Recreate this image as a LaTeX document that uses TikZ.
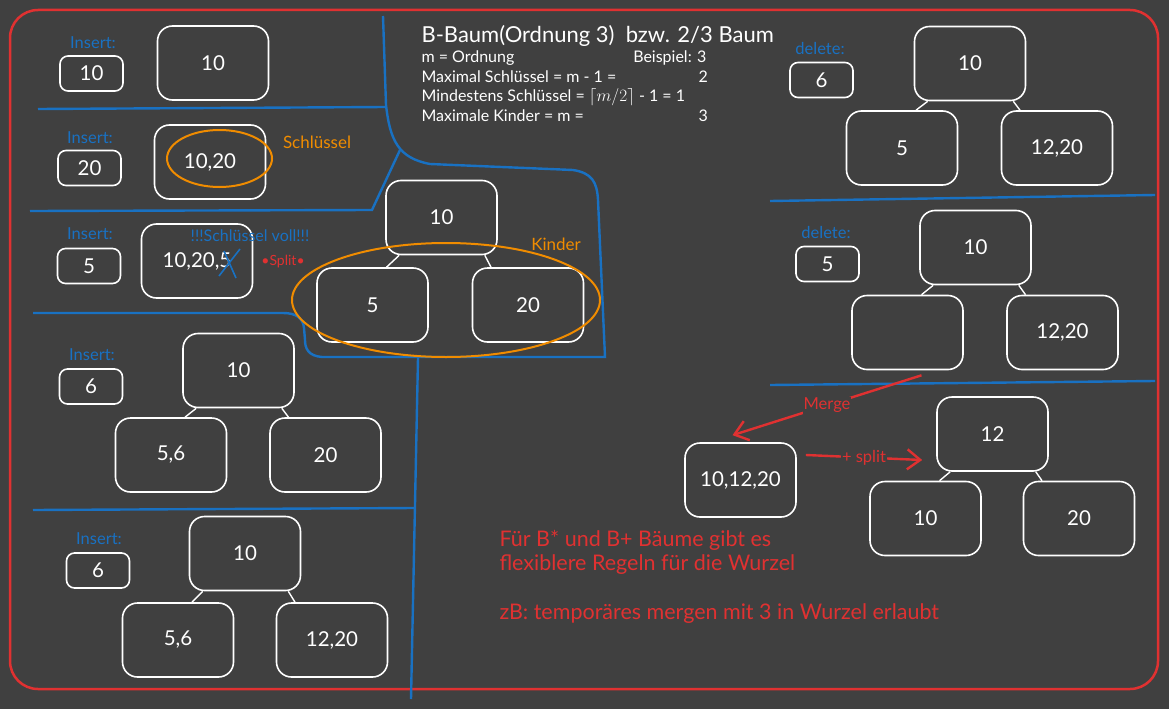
\documentclass[tikz,border=0pt]{standalone}
\usepackage{fontspec}
\setmainfont{Lato}
\usetikzlibrary{arrows.meta}
\definecolor{bgrey}{HTML}{404040}
\definecolor{bblue}{HTML}{1971C2}
\definecolor{bred}{HTML}{E03131}
\definecolor{borange}{HTML}{F08C00}
\begin{document}
\begin{tikzpicture}[x=1pt, y=-1pt, >={Straight Barb[length=13pt,width=20pt]},
	box/.style={draw=white, line width=1.6pt, rounded corners=15pt, minimum width=111pt, minimum height=74pt, inner sep=0pt, text=white, font=\fontsize{20.5}{22}\selectfont},
	keybox/.style={box, rounded corners=8pt, minimum width=63pt, minimum height=35pt},
	lbl/.style={text=bblue, font=\fontsize{16.5}{18}\selectfont},
	note/.style={text=borange, font=\fontsize{17}{19}\selectfont},
	sep/.style={draw=bblue, line width=2.4pt},
	edge/.style={draw=white, line width=1.4pt},
	rarrow/.style={->, draw=bred, line width=2.4pt},
	rlbl/.style={fill=bgrey, text=bred, font=\fontsize{16.5}{18}\selectfont, inner sep=1pt},
	head/.style={text=white, anchor=west, font=\fontsize{16}{18}\selectfont}]
		\useasboundingbox (0,0) rectangle (1169,709);
		\fill[bgrey] (0,0) rectangle (1169,709);
		\draw[bred, line width=2.5pt, rounded corners=28pt] (10,10) rectangle (1158,689);

		\draw[sep] (38,109) -- (386,107);
		\draw[sep] (30,211) -- (372,210) -- (400,150);
		\draw[sep] (383,16) -- (386,105) .. controls (390,140) and (398,158) .. (430,164)
		-- (573,170) .. controls (592,173) and (597,182) .. (598,200) -- (605,357)
		-- (322,357) .. controls (308,356) and (305,348) .. (305,340)
		-- (304,328) .. controls (303,318) and (296,313) .. (283,313) -- (33,313);
		\draw[sep] (418,358) -- (411,699);
		\draw[sep] (33,510) -- (415,508);
		\draw[sep] (770,201) -- (1155,195);
		\draw[sep] (770,385) -- (1155,381);

		\node[text=white, anchor=west, font=\fontsize{22}{24}\selectfont] (title) at (418,36) {B-Baum(Ordnung 3)\ \ bzw. 2/3 Baum};
		\node[head] (h1) at (418,58) {m = Ordnung};
		\node[head, anchor=east] (h1b) at (710,58) {Beispiel: 3};
		\node[head] (h2) at (418,77) {Maximal Schlüssel = m - 1 =};
		\node[head] (h2b) at (695,77) {2};
		\node[head] (h3) at (418,97) {Mindestens Schlüssel = $\lceil m/2\rceil$ - 1 = 1};
		\node[head] (h4) at (418,116) {Maximale Kinder = m =};
		\node[head] (h4b) at (695,116) {3};

		\node[lbl] (i1) at (93,43) {Insert:};
		\node[keybox] (k1) at (91.5,73.5) {10};
		\node[box] (n1) at (213,63) {10};

		\node[lbl] (i2) at (90,138) {Insert:};
		\node[keybox] (k2) at (89.5,168) {20};
		\node[box] (n2) at (210,162) {10,20};
		\draw[borange, line width=2pt] (219.5,158.5) ellipse [x radius=52.5pt, y radius=28.5pt];
		\node[note] (schl) at (317,142) {Schlüssel};

		\node[lbl] (i3) at (90,234) {Insert:};
		\node[keybox] (k3) at (89,266) {5};
		\node[box] (n3) at (197,261) {10,20,5};
		\draw[bblue, line width=1.6pt] (219,276) -- (240,249) (224,251) -- (236,278);
		\node[lbl, font=\fontsize{16}{18}\selectfont] (voll) at (250,236) {!!!Schlüssel voll!!!};
		\node[rlbl, fill=none, font=\fontsize{14}{16}\selectfont] (split) at (283,262) {•Split•};

		\node[box] (r0) at (441.5,217.5) {10};
		\node[box] (a0) at (372.5,305) {5};
		\node[box] (b0) at (528,305) {20};
		\draw[borange, line width=2pt] (446,300) ellipse [x radius=154pt, y radius=57pt];
		\node[note] (kind) at (556,244) {Kinder};

		\node[lbl] (i4) at (92,355) {Insert:};
		\node[keybox] (k4) at (91,386.5) {6};
		\node[box] (r4) at (238.5,370.5) {10};
		\node[box] (a4) at (171,455) {5,6};
		\node[box] (b4) at (325.5,455) {20};

		\node[lbl] (i5) at (99,539) {Insert:};
		\node[keybox] (k5) at (98,570.5) {6};
		\node[box] (r5) at (245,553.5) {10};
		\node[box] (a5) at (178,640) {5,6};
		\node[box] (b5) at (332,640) {12,20};

		\node[lbl] (d1) at (820,48) {delete:};
		\node[keybox] (k6) at (821.5,80) {6};
		\node[box] (r6) at (970,63.5) {10};
		\node[box] (a6) at (902,148) {5};
		\node[box] (b6) at (1057,148) {12,20};

		\node[lbl] (d2) at (826,232) {delete:};
		\node[keybox] (k7) at (827.5,264) {5};
		\node[box] (r7) at (975.5,247.5) {10};
		\node[box] (a7) at (907.5,332.5) {};
		\node[box] (b7) at (1062.5,332.5) {12,20};

		\node[box] (m) at (740.5,480) {10,12,20};
		\node[box] (r8) at (992.5,434) {12};
		\node[box] (a8) at (925.5,518.5) {10};
		\node[box] (b8) at (1079,518.5) {20};

		\foreach \r/\a/\b in {r0/a0/b0, r4/a4/b4, r5/a5/b5, r6/a6/b6, r7/a7/b7, r8/a8/b8} {
			\draw[edge] ([xshift=14pt]\r.south west) -- ([xshift=14pt]\a.north);
			\draw[edge] ([xshift=-13pt]\r.south east) -- ([xshift=-37pt]\b.north);
		}

		\draw[rarrow] ([xshift=14pt, yshift=-5pt]a7.south) -- node[rlbl]{Merge} ([xshift=-8pt, yshift=7pt]m.north);
		\draw[rarrow] ([xshift=9pt, yshift=25pt]m.east) -- node[rlbl]{+ split} ([xshift=-14pt, yshift=-26pt]r8.west);

		\node[text=bred, anchor=west, align=left, font=\fontsize{21.5}{24}\selectfont] (regel) at (496,552) {Für B* und B+ Bäume gibt es\\flexiblere Regeln für die Wurzel};
		\node[text=bred, anchor=west, font=\fontsize{21.5}{24}\selectfont] (zb) at (496,614) {zB: temporäres mergen mit 3 in Wurzel erlaubt};
	\end{tikzpicture}
\end{document}
